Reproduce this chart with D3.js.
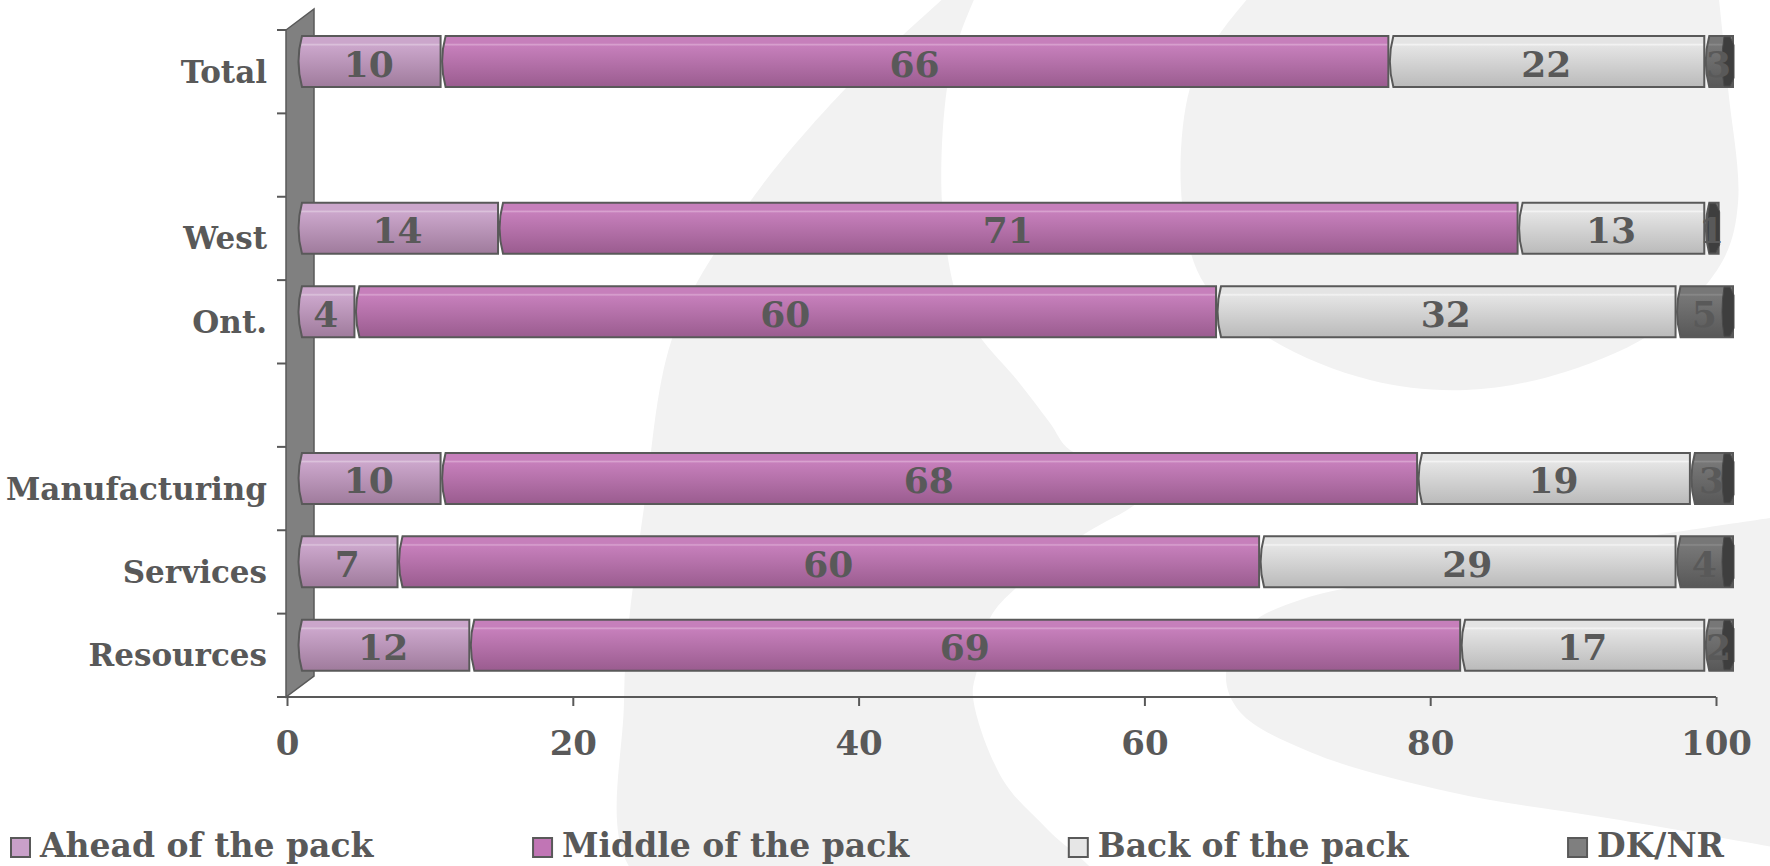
<!DOCTYPE html>
<html>
<head>
<meta charset="utf-8">
<script src="https://cdn.jsdelivr.net/npm/d3@7"></script>
<style>
  body { margin: 0; background: #fff; }
  svg { display: block; }
  text { font-family: "DejaVu Serif", Georgia, serif; font-weight: bold; fill: #595959; }
</style>
</head>
<body>
<div id="chart"></div>
<script>
// Data
const slots = ['Total', 'gap1', 'West', 'Ont.', 'gap2', 'Manufacturing', 'Services', 'Resources'];
const categories = ['Total', 'West', 'Ont.', 'Manufacturing', 'Services', 'Resources'];
const seriesNames = ['Ahead of the pack', 'Middle of the pack', 'Back of the pack', 'DK/NR'];
const ahead = [10, 14, 4, 10, 7, 12];
const middle = [66, 71, 60, 68, 60, 69];
const back = [22, 13, 32, 19, 29, 17];
const dknr = [3, 1, 5, 3, 4, 2];
const xTicks = [0, 20, 40, 60, 80, 100];

const width = 1770;
const height = 866;

// colours per series: [top, highlight, bottom, legend]
const palette = [
  ['#cba6cb', '#dcc3dc', '#9f7b9c', '#c9a0c9'],
  ['#c67fbb', '#d9a3d0', '#9a5c8f', '#c175b5'],
  ['#e4e4e4', '#f4f4f4', '#bababa', '#e6e6e6'],
  ['#777777', '#8a8a8a', '#585858', '#7f7f7f'],
];

const rows = categories.map((c, i) => ({
  cat: c,
  vals: [ahead[i], middle[i], back[i], dknr[i]],
}));

const svg = d3.select('#chart').append('svg')
  .attr('width', width)
  .attr('height', height);

// background logo (light grey swoosh)
const bg = svg.append('g');
const smooth = d3.line().curve(d3.curveCatmullRom.alpha(0.5));
const crescent = [
  [947, -5], [903, 35], [846, 88], [749, 203], [675, 330], [645, 500], [624, 700], [640, 880],
  [1095, 880], [1048, 830], [1003, 780], [973, 697], [977, 670], [990, 618], [1017, 587],
  [1083, 535], [1140, 500], [1150, 478], [1070, 450], [1050, 423], [1017, 380], [980, 337],
  [958, 300], [942, 203], [947, 88], [960, 35], [976, -5],
];
const blob = [
  [1255, -10], [1219, 35], [1190, 88], [1182, 203], [1205, 285], [1272, 340], [1370, 380],
  [1466, 390], [1565, 372], [1660, 328], [1722, 262], [1738, 203], [1728, 88], [1718, -10],
];
const wedge = [
  [1790, 515], [1560, 550], [1400, 578], [1300, 600], [1250, 625], [1226, 675], [1240, 712],
  [1310, 752], [1450, 792], [1620, 820], [1790, 850],
];
[crescent, blob, wedge].forEach((pts) => {
  bg.append('path')
    .attr('d', `${smooth(pts)}Z`)
    .attr('fill', '#f2f2f2');
});

// scales
const x = d3.scaleLinear().domain([0, 100]).range([287, 1716]);
const xBar = d3.scaleLinear().domain([0, 100]).range([297, 1733]);
const y = d3.scaleBand().domain(slots).range([30, 697]).padding(0);
const step = y.step();
const barTop = 6;
const barH = 51;

// side wall (3D)
const dx = 28;
const dy = -21;
const wx = x(0) - 1;
const [wy0, wy1] = y.range();
svg.append('path')
  .attr('d', `M${wx},${wy0} L${wx + dx},${wy0 + dy} L${wx + dx},${wy1 + dy} L${wx},${wy1} Z`)
  .attr('fill', '#808080')
  .attr('stroke', '#595959')
  .attr('stroke-width', 1.5);

// y ticks at band boundaries
const bounds = slots.map((s) => y(s)).concat([wy1]);
svg.append('g')
  .selectAll('line')
  .data(bounds)
  .join('line')
  .attr('x1', wx - 9)
  .attr('x2', wx)
  .attr('y1', (d) => d)
  .attr('y2', (d) => d)
  .attr('stroke', '#595959')
  .attr('stroke-width', 2);

// x axis
const xAxis = d3.axisBottom(x).tickValues(xTicks).tickSize(9).tickSizeOuter(0);
const gx = svg.append('g')
  .attr('transform', `translate(0,${wy1})`)
  .call(xAxis);
gx.select('.domain').attr('stroke', '#595959').attr('stroke-width', 2)
  .attr('d', `M${wx - 9},0H${x(100)}`);
gx.selectAll('.tick line').attr('stroke', '#595959').attr('stroke-width', 2);
gx.selectAll('.tick text')
  .attr('y', 58)
  .attr('dy', null)
  .style('font-size', '34px')
  .style('font-family', '"DejaVu Serif", Georgia, serif')
  .style('font-weight', 'bold')
  .attr('fill', '#595959');

// gradients
const defs = svg.append('defs');
palette.forEach((p, i) => {
  const g = defs.append('linearGradient')
    .attr('id', `grad${i}`)
    .attr('x1', 0).attr('y1', 0).attr('x2', 0).attr('y2', 1);
  g.append('stop').attr('offset', '0%').attr('stop-color', p[0]);
  g.append('stop').attr('offset', '14%').attr('stop-color', p[0]);
  g.append('stop').attr('offset', '17%').attr('stop-color', p[1]);
  g.append('stop').attr('offset', '20%').attr('stop-color', p[0]);
  g.append('stop').attr('offset', '100%').attr('stop-color', p[2]);
});

// segment shape with bevelled left end
const segPath = (x0, x1, y0, h) => {
  const c = Math.min(5, (x1 - x0) / 2);
  return `M${x0 + c},${y0} H${x1} V${y0 + h} H${x0 + c} Q${x0 - 2},${y0 + h / 2} ${x0 + c},${y0} Z`;
};

// stacked segments, clipped at 100
const segs = [];
rows.forEach((r) => {
  let acc = 0;
  r.vals.forEach((v, k) => {
    const s0 = Math.min(acc, 100);
    const s1 = Math.min(acc + v, 100);
    segs.push({ cat: r.cat, k, v, s0, s1, last: k === r.vals.length - 1 });
    acc += v;
  });
});

const bars = svg.append('g');
bars.selectAll('path.seg')
  .data(segs)
  .join('path')
  .attr('class', 'seg')
  .attr('d', (d) => segPath(xBar(d.s0), xBar(d.s1), y(d.cat) + barTop, barH))
  .attr('fill', (d) => `url(#grad${d.k})`)
  .attr('stroke', '#595959')
  .attr('stroke-width', 2);

// dark end caps on the right end of each bar
bars.selectAll('path.cap')
  .data(segs.filter((d) => d.last))
  .join('path')
  .attr('class', 'cap')
  .attr('d', (d) => {
    const x1 = xBar(d.s1);
    const y0 = y(d.cat) + barTop;
    return `M${x1 - 9},${y0 + 1} H${x1 - 3} L${x1 + 1},${y0 + 9} V${y0 + barH - 9} L${x1 - 3},${y0 + barH - 1} H${x1 - 9} Q${x1 - 13},${y0 + barH / 2} ${x1 - 9},${y0 + 1} Z`;
  })
  .attr('fill', '#3e3e3e')
  .attr('stroke', '#4a4a4a')
  .attr('stroke-width', 1);

// data labels
bars.selectAll('text')
  .data(segs)
  .join('text')
  .attr('x', (d) => (xBar(d.s0) + xBar(d.s1)) / 2)
  .attr('y', (d) => y(d.cat) + barTop + barH / 2 + 15)
  .attr('text-anchor', 'middle')
  .style('font-size', '36px')
  .text((d) => d.v);

// category labels
svg.append('g')
  .selectAll('text')
  .data(categories)
  .join('text')
  .attr('x', wx - 19)
  .attr('y', (d) => y(d) + step / 2 + 11)
  .attr('text-anchor', 'end')
  .style('font-size', '31px')
  .text((d) => d);

// legend: items laid out with equal gaps between them
const legend = svg.append('g')
  .selectAll('g')
  .data(seriesNames)
  .join('g');
legend.append('rect')
  .attr('width', 19)
  .attr('height', 19)
  .attr('fill', (d, i) => palette[i][3])
  .attr('stroke', '#595959')
  .attr('stroke-width', 2);
legend.append('text')
  .attr('x', 29)
  .attr('y', 19)
  .style('font-size', '33px')
  .text((d) => d);

const itemW = [];
legend.select('text').each(function () {
  itemW.push(29 + this.getComputedTextLength());
});
const legendStart = 11;
const legendEnd = 1724;
const gap = (legendEnd - legendStart - d3.sum(itemW)) / (itemW.length - 1);
let lx = legendStart;
const legendPos = itemW.map((w) => {
  const p = lx;
  lx += w + gap;
  return p;
});
legend.attr('transform', (d, i) => `translate(${legendPos[i]},838)`);
</script>
</body>
</html>
